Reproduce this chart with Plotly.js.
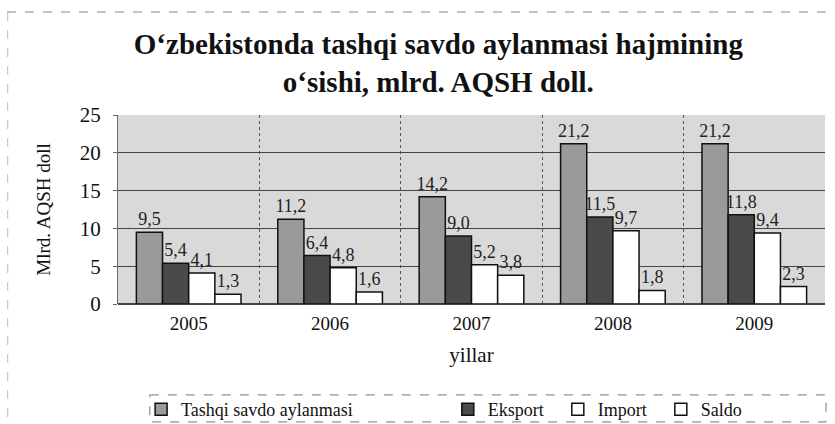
<!DOCTYPE html>
<html>
<head>
<meta charset="utf-8">
<script src="https://cdn.plot.ly/plotly-3.0.1.min.js"></script>
<style>html,body{margin:0;padding:0;background:#fff;}#chart{width:835px;height:424px;}</style>
</head>
<body>
<div id="chart"></div>
<script>
const years = ['2005', '2006', '2007', '2008', '2009'];
const tashqi = [9.5, 11.2, 14.2, 21.2, 21.2];
const eksport = [5.4, 6.4, 9.0, 11.5, 11.8];
const importV = [4.1, 4.8, 5.2, 9.7, 9.4];
const saldo = [1.3, 1.6, 3.8, 1.8, 2.3];
const seriesNames = ['Tashqi savdo aylanmasi', 'Eksport', 'Import', 'Saldo'];

const serif = 'Liberation Serif, Times New Roman, serif';
const fmt = v => v.toFixed(1).replace('.', ',');
const pad = (s, n) => s + '\u00a0'.repeat(n);

function bar(name, vals, color) {
  return {
    type: 'bar', name: name, x: years, y: vals,
    text: vals.map(fmt), textposition: 'outside', cliponaxis: false,
    constraintext: 'none',
    textfont: {family: serif, size: 18, color: '#222'},
    marker: {color: color, line: {color: '#111', width: 1.5}},
    hoverinfo: 'skip'
  };
}

const data = [
  bar(pad(seriesNames[0], 20), tashqi, '#9a9a9a'),
  bar(pad(seriesNames[1], 2), eksport, '#4a4a4a'),
  bar(pad(seriesNames[2], 2), importV, '#ffffff'),
  bar(seriesNames[3], saldo, '#ffffff')
];

const layout = {
  width: 835, height: 424,
  margin: {l: 118, r: 10, t: 115, b: 120},
  paper_bgcolor: '#ffffff', plot_bgcolor: '#d9d9d9',
  barmode: 'group', bargap: 0.26, bargroupgap: 0,
  showlegend: true,
  font: {family: serif, color: '#111'},
  title: {
    text: '<b>O‘zbekistonda tashqi savdo aylanmasi hajmining<br>o‘sishi, mlrd. AQSH doll.</b>',
    font: {family: serif, size: 29, color: '#111'},
    xref: 'container', yref: 'container', x: 0.525, y: 0.872, xanchor: 'center', yanchor: 'top'
  },
  xaxis: {
    type: 'category', tickson: 'boundaries', showgrid: true,
    gridcolor: '#555', griddash: 'dot', gridwidth: 1,
    ticks: '', showline: false, ticklabelstandoff: 6,
    tickfont: {family: serif, size: 19, color: '#111'},
    title: {text: 'yillar', font: {family: serif, size: 21, color: '#111'}, standoff: 14}
  },
  yaxis: {
    range: [0, 25], dtick: 5, showgrid: true, gridcolor: '#444', gridwidth: 1,
    showline: true, linecolor: '#666', linewidth: 1, ticks: 'outside', ticklen: 4, tickcolor: '#666',
    zeroline: true, zerolinecolor: '#444', zerolinewidth: 1.5, ticklabelstandoff: 8,
    tickfont: {family: serif, size: 21, color: '#111'},
    title: {text: 'Mlrd. AQSH doll', font: {family: serif, size: 19, color: '#111'}, standoff: 24}
  },
  legend: {
    orientation: 'h', xref: 'container', yref: 'container',
    x: 0.169, y: 0.078, xanchor: 'left', yanchor: 'top',
    font: {family: serif, size: 18, color: '#111'},
    bgcolor: 'rgba(0,0,0,0)', borderwidth: 0,
    itemwidth: 30, tracegroupgap: 0
  },
  shapes: [
    {type: 'rect', xref: 'paper', yref: 'paper', x0: 0.045, x1: 1.0014, y0: -0.481, y1: -0.624,
     line: {color: '#777', width: 1, dash: 'dash'}},
    {type: 'line', xref: 'paper', yref: 'paper', x0: -0.157, x1: 1.01, y0: 1.545, y1: 1.545,
     line: {color: '#888', width: 1, dash: 'dash'}},
    {type: 'line', xref: 'paper', yref: 'paper', x0: -0.156, x1: -0.156, y0: 1.545, y1: -0.64,
     line: {color: '#bbb', width: 1, dash: 'dash'}}
  ]
};

Plotly.newPlot('chart', data, layout, {displayModeBar: false, staticPlot: true});
</script>
</body>
</html>
